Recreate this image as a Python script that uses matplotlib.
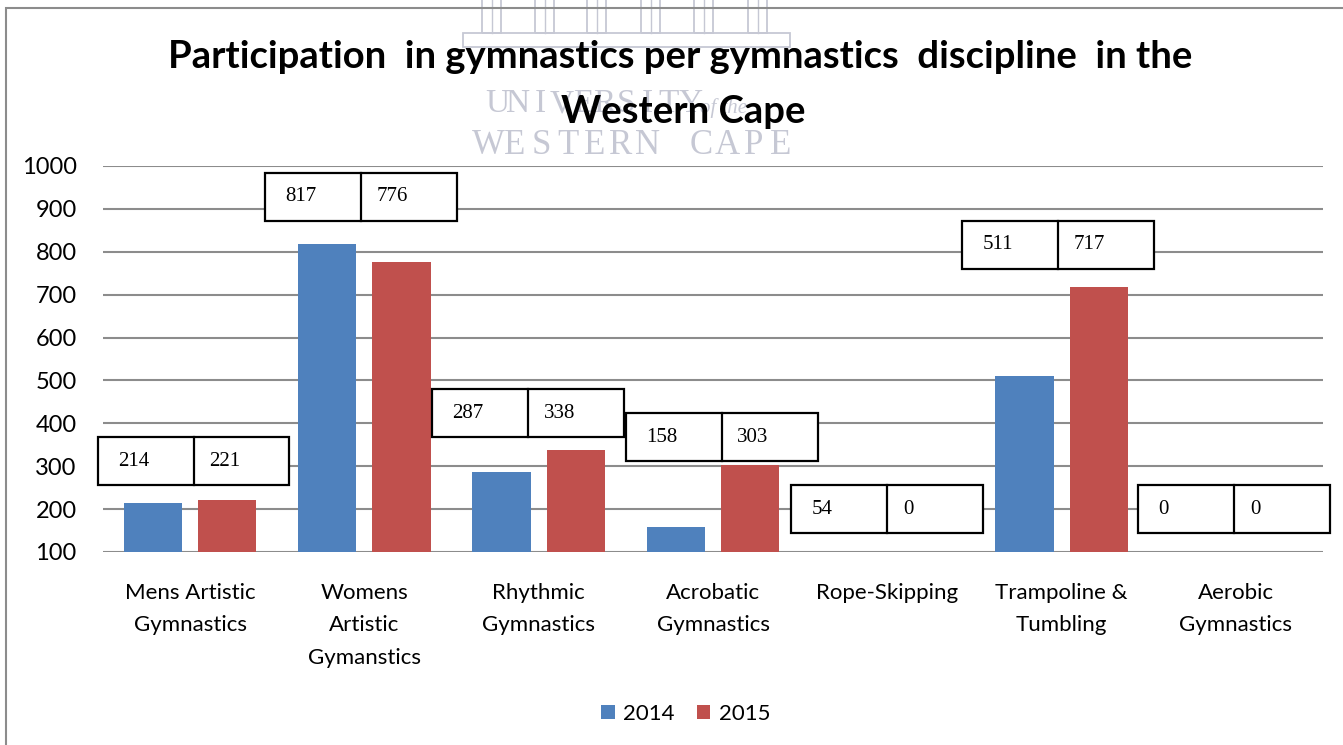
import numpy as np
import matplotlib.pyplot as plt
from matplotlib.patches import Rectangle

# data
categories = ['Mens Artistic\nGymnastics', 'Womens\nArtistic\nGymanstics', 'Rhythmic\nGymnastics',
              'Acrobatic\nGymnastics', 'Rope-Skipping', 'Trampoline &\nTumbling', 'Aerobic\nGymnastics']
vals_2014 = [214, 817, 287, 158, 54, 511, 0]
vals_2015 = [221, 776, 338, 303, 0, 717, 0]
years = ['2014', '2015']

# layout of the hand-placed label boxes (bottom in data units, x shift in category units)
box_bottom = [256, 872, 368, 312, 144, 760, 144]
box_shift = [0.02, -0.02, -0.06, 0.05, 0.0, -0.02, -0.01]

blue = '#4F81BD'
red = '#C0504D'
grid_col = '#8c8c8c'
font = 'Lato'
W, H = 1343, 745

fig = plt.figure(figsize=(W / 100, H / 100), dpi=100)
ax = fig.add_axes([103 / W, 1 - 552 / H, 1220 / W, 386 / H])

x = np.arange(len(categories))
w = 0.335
ax.bar(x - 0.213, vals_2014, w, color=blue, label=years[0], zorder=2)
ax.bar(x + 0.213, vals_2015, w, color=red, label=years[1], zorder=2)

ax.set_xlim(-0.5, len(categories) - 0.5)
ax.set_ylim(100, 1000)
ax.set_yticks(range(100, 1001, 100))
ax.yaxis.grid(True, color=grid_col, lw=1.5, zorder=0)
ax.set_axisbelow(True)
for s in ax.spines.values():
    s.set_visible(False)
ax.tick_params(axis='both', length=0)
ax.tick_params(axis='y', pad=19, labelsize=17)
ax.set_xticks(x)
ax.set_xticklabels(categories, fontsize=16, linespacing=1.8, va='top')
ax.tick_params(axis='x', pad=22)
for lab in ax.get_xticklabels() + ax.get_yticklabels():
    lab.set_fontfamily(font)

# value boxes
bw = 1.10
bh = 112
for i in range(len(categories)):
    cx = x[i] + box_shift[i]
    left = cx - bw / 2
    b = box_bottom[i]
    ax.add_patch(Rectangle((left, b), bw, bh, facecolor='white', edgecolor='black',
                           lw=1.6, zorder=4, clip_on=False))
    ax.plot([cx, cx], [b, b + bh], color='black', lw=1.6, zorder=5, clip_on=False)
    ax.text(left + 0.115, b + bh / 2, str(vals_2014[i]), family='Liberation Serif',
            fontsize=15, va='center', ha='left', zorder=6)
    ax.text(cx + 0.09, b + bh / 2, str(vals_2015[i]), family='Liberation Serif',
            fontsize=15, va='center', ha='left', zorder=6)

# faint university watermark behind the title
wm = '#c6c8d4'
for i, ch in enumerate('UNIVERSITY'):
    fig.text((497 + i * 21.5) / W, 1 - 104 / H, ch, family='Liberation Serif', fontsize=24,
             color=wm, ha='center', va='center', zorder=0)
fig.text(700 / W, 1 - 108 / H, 'of the', family='Liberation Serif', style='italic',
         fontsize=15, color=wm, ha='left', va='center', zorder=0)
for i, ch in enumerate('WESTERN CAPE'):
    if ch != ' ':
        fig.text((488 + i * 26.6) / W, 1 - 146 / H, ch, family='Liberation Serif', fontsize=25,
                 color=wm, ha='center', va='center', zorder=0)
for px in [482, 535, 587, 641, 694, 748]:
    fig.add_artist(Rectangle((px / W, 1 - 33 / H), 19 / W, 40 / H, transform=fig.transFigure,
                             fill=False, edgecolor=wm, lw=1.3, zorder=0))
    fig.add_artist(plt.Line2D([(px + 9.5) / W] * 2, [1 - 33 / H, 1], transform=fig.transFigure,
                              color=wm, lw=1.0, zorder=0))
fig.add_artist(Rectangle((463 / W, 1 - 47 / H), 327 / W, 14 / H, transform=fig.transFigure,
                         fill=False, edgecolor=wm, lw=1.3, zorder=0))

fig.text(680 / W, 1 - 57 / H, 'Participation  in gymnastics per gymnastics  discipline  in the',
         family=font, weight='bold', fontsize=27.5, ha='center', va='center')
fig.text(683 / W, 1 - 112 / H, 'Western Cape', family=font, weight='bold', fontsize=27.5,
         ha='center', va='center')

leg = fig.legend(loc='center', bbox_to_anchor=(686 / W, 1 - 714 / H), ncol=2, frameon=False,
                 prop={'family': font, 'size': 16}, handlelength=0.6, handleheight=0.6,
                 handletextpad=0.4, columnspacing=1.0)

# outer frame (right and bottom edges fall outside the picture)
fig.add_artist(Rectangle((6 / W, -0.05), 1.2, 1.05 - 8 / H, transform=fig.transFigure,
                         fill=False, edgecolor='#8c8c8c', lw=1.5))

fig.savefig('out.png', dpi=100)
